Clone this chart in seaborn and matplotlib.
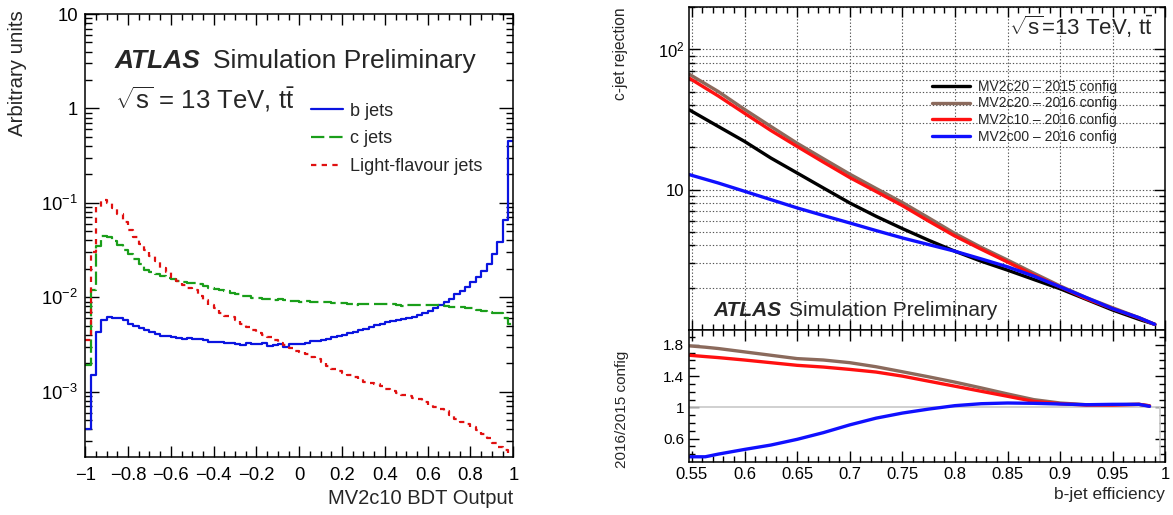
import numpy as np
import pandas as pd
import matplotlib
matplotlib.use("Agg")
import matplotlib.pyplot as plt
import matplotlib.ticker as mticker
from matplotlib.lines import Line2D
import seaborn as sns

# ---------------- data ----------------
bdt_range = (-1.0, 1.0)
n_bins = 80
b_jets = [4.0e-4, 1.49e-3, 4.25e-3, 5.8e-3, 6.1e-3, 6.05e-3, 6.0e-3, 5.7e-3, 5.25e-3, 4.97e-3,
          4.73e-3, 4.47e-3, 4.25e-3, 4.09e-3, 3.93e-3, 3.86e-3, 3.8e-3, 3.72e-3, 3.6e-3, 3.67e-3,
          3.65e-3, 3.62e-3, 3.5e-3, 3.35e-3, 3.35e-3, 3.32e-3, 3.3e-3, 3.3e-3, 3.23e-3, 3.13e-3,
          3.25e-3, 3.2e-3, 3.17e-3, 3.28e-3, 3.07e-3, 3.1e-3, 3.2e-3, 3.0e-3, 3.2e-3, 3.23e-3,
          3.23e-3, 3.28e-3, 3.4e-3, 3.45e-3, 3.55e-3, 3.63e-3, 3.8e-3, 3.85e-3, 4.0e-3, 4.2e-3,
          4.3e-3, 4.47e-3, 4.65e-3, 4.85e-3, 5.05e-3, 5.25e-3, 5.4e-3, 5.55e-3, 5.7e-3, 5.85e-3,
          6.0e-3, 6.2e-3, 6.5e-3, 6.85e-3, 7.2e-3, 7.6e-3, 8.2e-3, 8.9e-3, 9.65e-3, 1.07e-2,
          1.16e-2, 1.28e-2, 1.45e-2, 1.64e-2, 1.89e-2, 2.26e-2, 2.88e-2, 3.83e-2, 6.5e-2, 0.455]
c_jets = [1.9e-3, 1.18e-2, 3.48e-2, 4.5e-2, 4.33e-2, 3.9e-2, 3.54e-2, 3.13e-2, 2.84e-2, 2.52e-2,
          2.26e-2, 1.96e-2, 1.85e-2, 1.75e-2, 1.67e-2, 1.6e-2, 1.55e-2, 1.5e-2, 1.45e-2, 1.42e-2,
          1.40e-2, 1.37e-2, 1.33e-2, 1.25e-2, 1.22e-2, 1.18e-2, 1.15e-2, 1.10e-2, 1.07e-2, 1.04e-2,
          1.02e-2, 9.9e-3, 9.7e-3, 9.6e-3, 9.6e-3, 9.45e-3, 9.6e-3, 9.45e-3, 9.1e-3, 9.1e-3,
          9.0e-3, 9.05e-3, 9.0e-3, 8.8e-3, 8.9e-3, 8.9e-3, 8.7e-3, 8.6e-3, 8.6e-3, 8.5e-3,
          8.3e-3, 8.4e-3, 8.5e-3, 8.4e-3, 8.4e-3, 8.45e-3, 8.4e-3, 8.4e-3, 8.2e-3, 8.15e-3,
          8.2e-3, 8.2e-3, 8.25e-3, 8.2e-3, 8.2e-3, 8.2e-3, 8.2e-3, 8.05e-3, 7.95e-3, 7.8e-3,
          7.8e-3, 7.6e-3, 7.6e-3, 7.35e-3, 7.2e-3, 7.0e-3, 6.85e-3, 6.75e-3, 6.0e-3, 5.2e-3]
light_jets = [3.5e-3, 3.0e-2, 9.0e-2, 0.106, 0.100, 0.0885, 0.0765, 0.0623, 0.052, 0.0433,
              0.0368, 0.0313, 0.027, 0.0242, 0.0205, 0.0183, 0.0163, 0.0148, 0.0135, 0.0125,
              0.0118, 0.0102, 9.3e-3, 8.2e-3, 7.6e-3, 6.8e-3, 6.4e-3, 6.1e-3, 5.7e-3, 5.2e-3,
              4.85e-3, 4.47e-3, 4.2e-3, 3.97e-3, 3.75e-3, 3.5e-3, 3.3e-3, 3.1e-3, 2.9e-3, 2.7e-3,
              2.6e-3, 2.5e-3, 2.3e-3, 2.2e-3, 2.05e-3, 1.87e-3, 1.75e-3, 1.67e-3, 1.57e-3, 1.5e-3,
              1.43e-3, 1.35e-3, 1.28e-3, 1.24e-3, 1.2e-3, 1.15e-3, 1.06e-3, 1.02e-3, 9.7e-4, 9.3e-4,
              8.9e-4, 8.6e-4, 8.3e-4, 7.8e-4, 7.2e-4, 6.8e-4, 6.5e-4, 6.3e-4, 5.7e-4, 5.1e-4,
              4.8e-4, 4.5e-4, 4.25e-4, 3.9e-4, 3.6e-4, 3.2e-4, 2.85e-4, 2.6e-4, 2.4e-4, 1.9e-4]

eff = [0.5475, 0.575, 0.6, 0.625, 0.65, 0.675, 0.7, 0.725, 0.75, 0.775,
       0.8, 0.825, 0.85, 0.875, 0.9, 0.925, 0.95, 0.975, 0.99]
rej_mv2c20_2015 = [37.0, 28.2, 22.06, 16.8, 13.14, 10.27, 8.04, 6.46, 5.28, 4.36,
                   3.64, 3.09, 2.67, 2.29, 1.967, 1.652, 1.387, 1.191, 1.097]
rej_mv2c20_2016 = [66.4, 50.0, 37.3, 28.2, 21.4, 16.6, 12.9, 10.2, 8.1, 6.3,
                   4.87, 3.88, 3.15, 2.54, 2.06, 1.70, 1.44, 1.224, 1.097]
rej_mv2c10_2016 = [62.2, 46.5, 35.0, 26.4, 20.3, 15.7, 12.2, 9.7, 7.7, 5.97,
                   4.67, 3.76, 3.05, 2.46, 2.03, 1.67, 1.418, 1.217, 1.097]
rej_mv2c00_2016 = [12.79, 11.15, 9.73, 8.49, 7.41, 6.54, 5.79, 5.11, 4.53, 4.06,
                   3.64, 3.21, 2.82, 2.42, 2.03, 1.70, 1.418, 1.224, 1.097]

eff_ratio = [0.5475, 0.5627, 0.575, 0.6, 0.625, 0.65, 0.675, 0.7, 0.725, 0.75, 0.775,
             0.8, 0.825, 0.85, 0.875, 0.9, 0.925, 0.95, 0.975, 0.985]
ratio_mv2c20 = [1.787, 1.77, 1.753, 1.71, 1.667, 1.624, 1.606, 1.572, 1.52, 1.456, 1.391,
                1.323, 1.249, 1.172, 1.099, 1.056, 1.034, 1.034, 1.039, 1.02]
ratio_mv2c10 = [1.667, 1.65, 1.637, 1.606, 1.572, 1.538, 1.516, 1.486, 1.452, 1.40, 1.335,
                1.271, 1.206, 1.142, 1.077, 1.047, 1.03, 1.03, 1.039, 1.02]
ratio_mv2c00 = [0.368, 0.368, 0.402, 0.462, 0.518, 0.591, 0.677, 0.776, 0.862, 0.927, 0.978,
                1.022, 1.047, 1.056, 1.052, 1.043, 1.034, 1.039, 1.039, 1.013]

hist_labels = ["b jets", "c jets", "Light-flavour jets"]
roc_labels = ["MV2c20 – 2015 config", "MV2c20 – 2016 config",
              "MV2c10 – 2016 config", "MV2c00 – 2016 config"]

# ---------------- style ----------------
sns.set_style("ticks")
plt.rcParams["font.family"] = ["Liberation Sans", "DejaVu Sans"]
plt.rcParams["mathtext.fontset"] = "custom"
plt.rcParams["mathtext.rm"] = "Liberation Sans"
plt.rcParams["mathtext.it"] = "Liberation Sans:italic"
plt.rcParams["mathtext.bf"] = "Liberation Sans:bold"
plt.rcParams["axes.unicode_minus"] = True

W, H = 1173, 515
fig = plt.figure(figsize=(W / 100, H / 100), dpi=100)


def fx(px):
    return px / W


def fy(py):
    return 1 - py / H


def style_ticks(ax, maj_x, min_x, maj_y, min_y, lsize):
    ax.tick_params(which="both", direction="in", top=True, right=True,
                   colors="black", labelsize=lsize, width=1.0)
    ax.tick_params(axis="x", which="major", length=maj_x)
    ax.tick_params(axis="x", which="minor", length=min_x)
    ax.tick_params(axis="y", which="major", length=maj_y)
    ax.tick_params(axis="y", which="minor", length=min_y)
    for s in ax.spines.values():
        s.set_linewidth(1.1)
        s.set_color("black")


# ---------------- left panel ----------------
axL = fig.add_axes([fx(85.3), fy(457), fx(513.3 - 85.3), (457 - 14) / H])
edges = np.linspace(bdt_range[0], bdt_range[1], n_bins + 1)
centers = 0.5 * (edges[:-1] + edges[1:])
hist_df = pd.DataFrame({"x": np.tile(centers, 3),
                        "w": np.concatenate([b_jets, c_jets, light_jets]),
                        "flav": np.repeat(hist_labels, len(centers))})
hist_colors = ["#0a14e0", "#1a9e1a", "#e01010"]
hist_styles = ["-", (0, (6.0, 2.2)), (0, (2.4, 2.4))]
for lab, col, ls in zip(hist_labels, hist_colors, hist_styles):
    sub = hist_df[hist_df["flav"] == lab]
    sns.histplot(data=sub, x="x", weights="w", bins=n_bins, binrange=bdt_range, element="step",
                 fill=False, color=col, linestyle=ls, linewidth=1.6, ax=axL)
axL.set_yscale("log")
axL.set_xlim(-1, 1)
axL.set_ylim(2.03e-4, 10)
axL.set_xlabel("")
axL.set_ylabel("")
axL.xaxis.set_major_locator(mticker.MultipleLocator(0.2))
axL.xaxis.set_minor_locator(mticker.MultipleLocator(0.05))
axL.xaxis.set_major_formatter(mticker.FuncFormatter(
    lambda v, p: ("%g" % round(v, 2)).replace("-", "\u2212")))
axL.yaxis.set_major_locator(mticker.LogLocator(base=10, numticks=20))
axL.yaxis.set_minor_locator(mticker.LogLocator(base=10, subs=np.arange(2, 10), numticks=20))


def log_lab(v, p):
    e = int(round(np.log10(v)))
    if e == 0:
        return "1"
    if e == 1:
        return "10"
    return r"$10^{%d}$" % e


axL.yaxis.set_major_formatter(mticker.FuncFormatter(log_lab))
axL.yaxis.set_minor_formatter(mticker.NullFormatter())
style_ticks(axL, 8, 4.5, 10, 5, 13.3)
axL.tick_params(axis="x", pad=7)
axL.tick_params(axis="y", pad=5)

fig.text(fx(18), fy(10), "Arbitrary units", rotation=90, ha="center", va="top", fontsize=14.7)
fig.text(fx(513.3), fy(498), "MV2c10 BDT Output", ha="right", va="center", fontsize=14.5)
fig.text(fx(115), fy(68), "ATLAS", fontsize=19, fontweight="bold", fontstyle="italic", va="baseline")
fig.text(fx(213), fy(68), "Simulation Preliminary", fontsize=19, va="baseline")
fig.text(fx(115), fy(108), r"$\sqrt{\mathrm{s}}$ = 13 TeV, $\mathrm{t}\bar{\mathrm{t}}$",
         fontsize=18.5, va="baseline")

h_handles = [Line2D([], [], color=c, linestyle=s, linewidth=1.6) for c, s in zip(hist_colors, hist_styles)]
fig.legend(h_handles, hist_labels, loc="upper left", bbox_to_anchor=(fx(311), fy(102.5)),
           bbox_transform=fig.transFigure, frameon=False, fontsize=13, borderpad=0,
           borderaxespad=0, handlelength=1.75, handletextpad=0.4, labelspacing=0.6)

# ---------------- right top panel ----------------
axT = fig.add_axes([fx(689.3), fy(330), fx(1165.3 - 689.3), (330 - 7) / H])
roc_colors = ["black", "#8b6a5c", "#ff1010", "#1010ff"]
roc_series = [rej_mv2c20_2015, rej_mv2c20_2016, rej_mv2c10_2016, rej_mv2c00_2016]
for lab, col, ys in zip(roc_labels, roc_colors, roc_series):
    sns.lineplot(x=eff, y=ys, color=col, linewidth=2.4, ax=axT, estimator=None, sort=False)
axT.set_yscale("log")
axT.set_xlim(0.5475, 1.0)
axT.set_ylim(1.0, 200)
axT.xaxis.set_major_locator(mticker.MultipleLocator(0.05))
axT.xaxis.set_minor_locator(mticker.MultipleLocator(0.01))
axT.xaxis.set_major_formatter(mticker.NullFormatter())
axT.yaxis.set_major_locator(mticker.FixedLocator([10, 100]))
axT.yaxis.set_minor_locator(mticker.LogLocator(base=10, subs=np.arange(2, 10), numticks=20))
axT.yaxis.set_major_formatter(mticker.FixedFormatter(["10", r"$10^{2}$"]))
axT.yaxis.set_minor_formatter(mticker.NullFormatter())
axT.grid(True, which="major", axis="x", linestyle=(0, (1.2, 1.8)), color="#555555", linewidth=0.8)
axT.grid(True, which="both", axis="y", linestyle=(0, (1.2, 1.8)), color="#555555", linewidth=0.8)
style_ticks(axT, 7, 4, 8, 4, 12)
axT.set_ylabel("")

fig.text(fx(620), fy(7), "c-jet rejection", rotation=90, ha="center", va="top", fontsize=11.2)
fig.text(fx(713), fy(316), "ATLAS", fontsize=15, fontweight="bold", fontstyle="italic", va="baseline")
fig.text(fx(789), fy(316), "Simulation Preliminary", fontsize=15, va="baseline")
fig.text(fx(1009), fy(35), r"$\sqrt{\mathrm{s}}$=13 TeV, $\mathrm{t}\bar{\mathrm{t}}$",
         fontsize=16, va="baseline")

r_handles = [Line2D([], [], color=c, linewidth=2.4) for c in roc_colors]
axT.legend(r_handles, roc_labels, loc="upper left", bbox_to_anchor=(fx(932), fy(79.5)),
           bbox_transform=fig.transFigure, frameon=False, fontsize=10, borderpad=0,
           borderaxespad=0, handlelength=2.75, handletextpad=0.55, labelspacing=0.21)

# ---------------- ratio panel ----------------
axR = fig.add_axes([fx(689.3), fy(461.7), fx(1165.3 - 689.3), (461.7 - 330) / H])
axR.plot([0.5475, 0.9946], [1, 1], color="#c8c8c8", linewidth=1.2, zorder=1)
axR.plot([0.9946, 0.9946], [0.2, 1], color="#c8c8c8", linewidth=1.2, zorder=1)
ratio_series = [ratio_mv2c20, ratio_mv2c10, ratio_mv2c00]
for col, ys in zip(roc_colors[1:], ratio_series):
    sns.lineplot(x=eff_ratio, y=ys, color=col, linewidth=2.4, ax=axR, estimator=None, sort=False)
axR.set_xlim(0.5475, 1.0)
axR.set_ylim(0.305, 1.99)
axR.xaxis.set_major_locator(mticker.MultipleLocator(0.05))
axR.xaxis.set_minor_locator(mticker.MultipleLocator(0.01))
axR.xaxis.set_major_formatter(mticker.FuncFormatter(lambda v, p: "%g" % round(v, 2)))
axR.yaxis.set_major_locator(mticker.FixedLocator([0.6, 1.0, 1.4, 1.8]))
axR.yaxis.set_minor_locator(mticker.MultipleLocator(0.1))
axR.yaxis.set_major_formatter(mticker.FuncFormatter(lambda v, p: "%g" % round(v, 2)))
style_ticks(axR, 8, 4, 7, 4, 12)
axR.tick_params(axis="y", labelsize=11)
axR.set_ylabel("")
fig.text(fx(622), fy(409), "2016/2015 config", rotation=90, ha="center", va="center", fontsize=11)
fig.text(fx(1165.3), fy(494), "b-jet efficiency", ha="right", va="center", fontsize=12.5)

fig.savefig("out.png", dpi=100)
